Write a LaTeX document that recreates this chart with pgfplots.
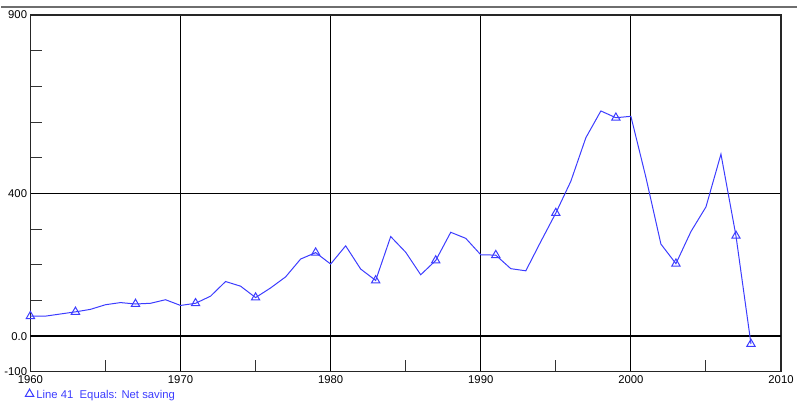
\documentclass[border=0pt]{standalone}
\usepackage{pgfplots}
\pgfplotsset{compat=1.18}
\usepackage{pgfplotstable}
\usepackage{fontspec}
\setmainfont{Liberation Sans}
\definecolor{lineblue}{RGB}{60,60,255}
\definecolor{topgray}{RGB}{110,110,110}
\pgfplotstableread{
year val
1960 56
1961 56
1962 62
1963 68
1964 75
1965 88
1966 94
1967 90
1968 92
1969 102
1970 86
1971 92
1972 112
1973 153
1974 140
1975 108
1976 135
1977 166
1978 216
1979 234
1980 202
1981 253
1982 188
1983 156
1984 279
1985 235
1986 172
1987 212
1988 291
1989 274
1990 228
1991 227
1992 189
1993 183
1994 265
1995 345
1996 434
1997 556
1998 631
1999 612
2000 616
2001 445
2002 258
2003 203
2004 293
2005 362
2006 510
2007 281
2008 -22
}\saving
\pgfplotstableread{
year z
1960 0
2010 0
}\zeroline
\begin{document}
\begin{tikzpicture}[x=0.75pt,y=0.75pt]
\begin{axis}[
  at={(0,0)}, anchor=south west,
  scale only axis,
  width=564.75pt, height=268.5pt,
  xmin=1960, xmax=2010, ymin=-100, ymax=900,
  xtick={1960,1970,...,2010},
  xticklabels={1960,1970,1980,1990,2000,2010},
  ytick={-100,0,400,900},
  yticklabels={-100,0.0,400,900},
  minor xtick={1965,1975,...,2005},
  minor ytick={100,200,300,500,600,700,800},
  major tick length=0pt,
  minor tick length=9pt,
  tick align=inside,
  xtick pos=bottom, ytick pos=left,
  grid=major,
  major grid style={black, line width=0.75pt},
  minor tick style={black!80, line width=0.75pt},
  axis line style={black!85, line width=0.9pt},
  tick label style={font=\fontsize{8.5}{10}\selectfont, text=black},
  xticklabel style={yshift=1pt},
  yticklabel style={xshift=1pt},
  legend style={at={(rel axis cs:-0.007,-0.045)}, anchor=north west, draw=none, fill=none,
    font=\fontsize{8.5}{10}\selectfont, text=lineblue, inner sep=0pt,
    legend cell align=left},
  legend image code/.code={\draw[#1] (0.45em,0.15em) -- plot coordinates {(0.45em,0.15em)};},
]
\addplot[black, line width=1.5pt, forget plot] table[x=year,y=z] {\zeroline};
\addplot[lineblue, line width=0.75pt, forget plot] table[x=year,y=val] {\saving};
\addplot[only marks, mark=triangle, mark size=3.6pt, lineblue, mark options={line width=0.75pt, fill=none},
  mark indices={1,4,8,12,16,20,24,28,32,36,40,44,48,49}] table[x=year,y=val] {\saving};
\addlegendentry{Line 41\ \ Equals: Net saving}
\end{axis}
\draw[topgray, line width=1.5pt] (-29,366) -- (769,366);
\path (-29,-41) rectangle (769,373);
\end{tikzpicture}
\end{document}
